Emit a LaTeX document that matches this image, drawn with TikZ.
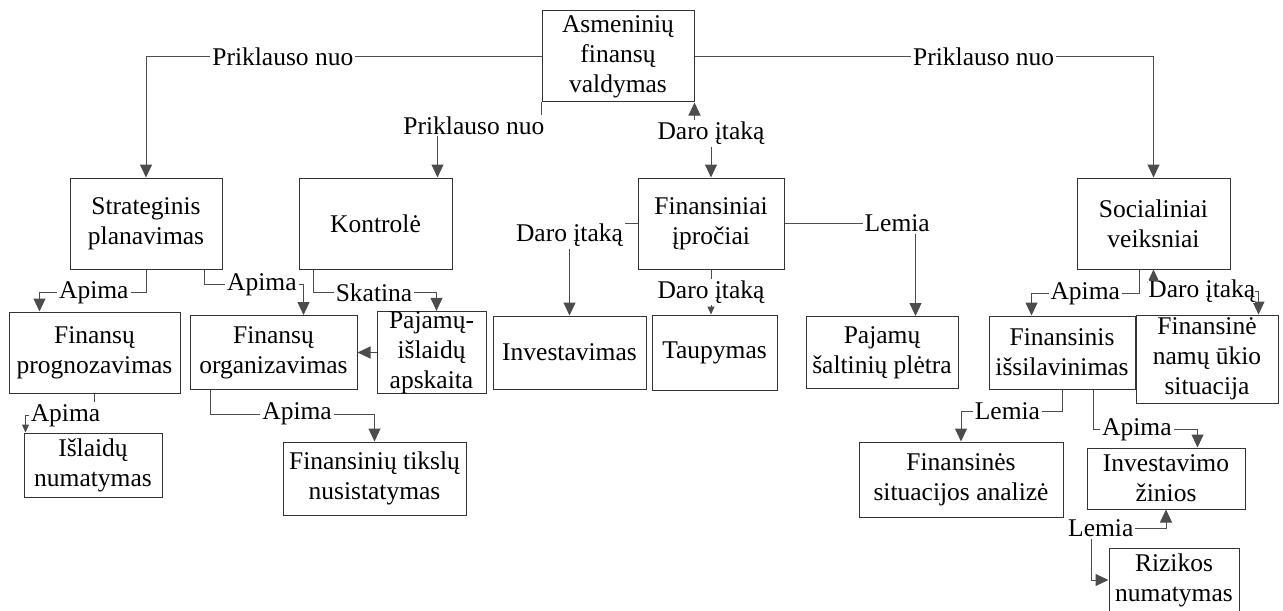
\documentclass[tikz,border=0pt]{standalone}
\usepackage{fontspec}
\setmainfont{Liberation Serif}
\usetikzlibrary{arrows.meta,positioning,calc}
\tikzset{
  block/.style={draw=black!80,line width=0.5pt,inner sep=0pt,align=center,font=\fontsize{12.75}{15}\selectfont},
  relarrow/.style={-{Triangle[width=6pt,length=6.5pt]},draw=black!70,line width=0.5pt},
  smallarrow/.style={-{Triangle[width=3.5pt,length=4pt]},draw=black!70,line width=0.5pt},
  bothrel/.style={{Triangle[width=6pt,length=6.5pt]}-{Triangle[width=6pt,length=6.5pt]},draw=black!70,line width=0.5pt},
  reltext/.style={fill=white,inner sep=1pt,font=\fontsize{12.75}{15}\selectfont}
}

\begin{document}
\begin{tikzpicture}[x=0.5pt,y=-0.5pt]
  \useasboundingbox (0,0) rectangle (1283,610);
  \node[block, minimum width=76pt, minimum height=45.5pt] (AFV) at (618,56.5) {Asmeninių\\finansų\\valdymas};
  \node[block, minimum width=76pt, minimum height=45.5pt] (SP) at (146,223.5) {Strateginis\\planavimas};
  \node[block, minimum width=76.5pt, minimum height=45.5pt, right=38pt of SP] (K) {Kontrolė};
  \node[block, minimum width=73pt, minimum height=45.5pt, right=92.5pt of K] (FI) {Finansiniai\\įpročiai};
  \node[block, minimum width=76.5pt, minimum height=45.5pt, right=146pt of FI] (SV) {Socialiniai\\veiksniai};

  \node[block, minimum width=85.5pt, minimum height=40.5pt] (FP) at (94.5,352.5) {Finansų\\prognozavimas};
  \node[block, minimum width=83.5pt, minimum height=37pt, right=4.5pt of FP] (FO) {Finansų\\organizavimas};
  \node[block, minimum width=54.5pt, minimum height=40.5pt, right=9.5pt of FO] (PIA) {Pajamų-\\išlaidų\\apskaita};
  \node[block, minimum width=76.5pt, minimum height=36.5pt, right=3pt of PIA] (Inv) {Investavimas};
  \node[block, minimum width=62.5pt, minimum height=37.5pt, right=2.5pt of Inv] (Taup) {Taupymas};
  \node[block, minimum width=76pt, minimum height=36pt, right=14pt of Taup] (PSP) {Pajamų\\šaltinių plėtra};
  \node[block, minimum width=73pt, minimum height=36.5pt, right=15pt of PSP] (FIs) {Finansinis\\išsilavinimas};
  \node[block, minimum width=71pt, minimum height=44pt] (FNUS) at (1207,359) {Finansinė\\namų ūkio\\situacija};

  \node[block, minimum width=69pt, minimum height=32pt] (IN) at (93,465) {Išlaidų\\numatymas};
  \node[block, minimum width=91.5pt, minimum height=36.5pt] (FTN) at (374.5,478.5) {Finansinių tikslų\\nusistatymas};
  \node[block, minimum width=102pt, minimum height=37.5pt] (FSA) at (961,479.5) {Finansinės\\situacijos analizė};
  \node[block, minimum width=79pt, minimum height=30.5pt] (IZ) at (1166,478.5) {Investavimo\\žinios};
  \node[block, minimum width=65pt, minimum height=32pt] (RN) at (1174,580) {Rizikos\\numatymas};

  \draw[relarrow] (AFV.west) -| (SP.north) node[reltext, pos=0.327] {Priklauso nuo};
  \draw[relarrow] (AFV.east) -| (SV.north) node[reltext, pos=0.315] {Priklauso nuo};
  \draw[relarrow] (AFV.south west) -- ++(0,23) -| ([xshift=-7.5pt]K.north east) node[reltext, pos=0.325] {Priklauso nuo};
  \draw[bothrel] (AFV.south east) -- ++(0,25) -| (FI.north) node[reltext, pos=0.5, yshift=-3pt] {Daro įtaką};
  \draw[relarrow] (FI.west) -| (Inv.north) node[reltext, pos=0.5, yshift=-6pt] {Daro įtaką};
  \draw[relarrow] (FI.east) -| ([xshift=-21.5pt]PSP.north east) node[reltext, pos=0.43] {Lemia};
  \draw[smallarrow] (FI.south) -- (FI.south |- Taup.north) node[reltext, midway] {Daro įtaką};

  \draw[relarrow] (SP.south) -- ++(0,23) -| ([xshift=15.5pt]FP.north west) node[reltext, pos=0.245] {Apima};
  \draw[relarrow] ([xshift=-9pt]SP.south east) -- ++(0,15) -| ([xshift=-27pt]FO.north east) node[reltext, pos=0.29] {Apima};
  \draw[relarrow] ([xshift=7.5pt]K.south west) -- ++(0,23) -| ([xshift=30pt]PIA.north west) node[reltext, pos=0.246] {Skatina};
  \draw[relarrow] (PIA.west) -- (PIA.west -| FO.east);
  \draw[smallarrow] (FP.south) -- ++(0,22) -| ([xshift=1pt]IN.north west) node[reltext, pos=0.21] {Apima};
  \draw[relarrow] ([xshift=10.5pt]FO.south west) -- ++(0,24) -| (FTN.north) node[reltext, pos=0.264] {Apima};

  \draw[relarrow] ([xshift=-7.25pt]SV.south) -- ++(0,24) -| ([xshift=21.5pt]FIs.north west) node[reltext, pos=0.25] {Apima};
  \draw[bothrel] (SV.south) -- ++(0,22) -| ([xshift=-10pt]FNUS.north east) node[reltext, inner sep=0pt, pos=0.23] {Daro įtaką};
  \draw[relarrow] (FIs.south) -- ++(0,22) -| (FSA.north) node[reltext, pos=0.27] {Lemia};
  \draw[relarrow] ([xshift=15.5pt]FIs.south) -- ++(0,40) -| ([xshift=-24pt]IZ.north east) node[reltext, pos=0.21] {Apima};
  \draw[bothrel] (IZ.south) -- ++(0,19) -- ++(-75,0) node[reltext, pos=0.87] {Lemia} |- (RN.west);
\end{tikzpicture}
\end{document}
